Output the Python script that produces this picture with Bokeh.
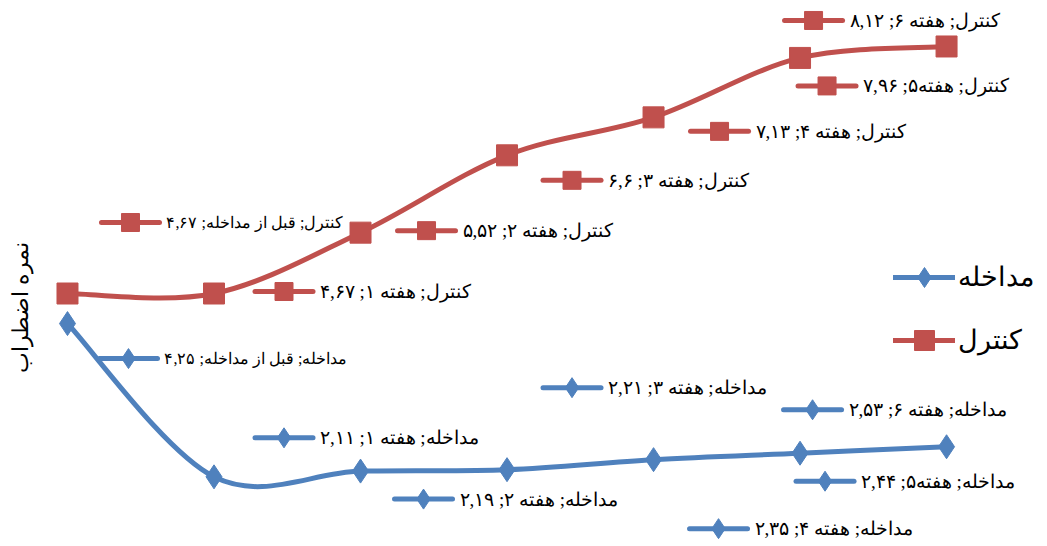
import math
from bokeh.plotting import figure
from bokeh.models import Range1d, Label, Legend, LegendItem
from bokeh.core.properties import value
from bokeh.embed import file_html
from bokeh.resources import INLINE

# ---- data ----
categories = ["قبل از مداخله", "هفته ۱", "هفته ۲", "هفته ۳", "هفته ۴", "هفته۵", "هفته ۶"]
control = [4.67, 4.67, 5.52, 6.60, 7.13, 7.96, 8.12]
intervention = [4.25, 2.11, 2.19, 2.21, 2.35, 2.44, 2.53]
name_int = "مداخله"
name_ctrl = "کنترل"
y_title = "نمره اضطراب"

RED = "#C0504D"
BLUE = "#4F81BD"
FONT = "Liberation Serif"

W, H = 1047, 546
X0, X1 = -0.4573, 6.689
Y0, Y1 = 1.137, 8.762
PX_X = W / (X1 - X0)
PX_Y = H / (Y1 - Y0)

# label layout offsets in pixels (key-marker centre relative to point; +dy = downwards)
ctrl_dx = [63, 70, 66, 65, 66, 27, -133]
ctrl_dy = [-71, -2, -2, 25, 14, 28, -26]
int_dx = [61, 70, 63, 65, 65, 25, -134]
int_dy = [35, -39, 28, -82, 69, 28, -37]

P_DIG = str.maketrans("0123456789.", "۰۱۲۳۴۵۶۷۸۹,")


def fmt(v):
    return f"{v:g}".translate(P_DIG)


def bez(vals):
    n = len(vals)
    xs = list(range(n))
    out = dict(x0=[], y0=[], x1=[], y1=[], cx0=[], cy0=[], cx1=[], cy1=[])
    for i in range(n - 1):
        pm = max(i - 1, 0)
        pp = min(i + 2, n - 1)
        out["x0"].append(xs[i]); out["y0"].append(vals[i])
        out["x1"].append(xs[i + 1]); out["y1"].append(vals[i + 1])
        out["cx0"].append(xs[i] + (xs[i + 1] - xs[pm]) / 6)
        out["cy0"].append(vals[i] + (vals[i + 1] - vals[pm]) / 6)
        out["cx1"].append(xs[i + 1] - (xs[pp] - xs[i]) / 6)
        out["cy1"].append(vals[i + 1] - (vals[pp] - vals[i]) / 6)
    return out


p = figure(width=W, height=H, x_range=Range1d(X0, X1), y_range=Range1d(Y0, Y1),
           output_backend="svg", toolbar_location=None, min_border=0,
           x_axis_location=None, y_axis_location=None, outline_line_color=None)
p.xgrid.visible = False
p.ygrid.visible = False

xs = list(range(len(categories)))

# intervention series
b_int = p.bezier(**bez(intervention), line_color=BLUE, line_width=5, line_cap="round")
s_int = p.scatter(xs, intervention, marker="diamond", size=24, fill_color=BLUE, line_color=BLUE)
# control series
b_ctrl = p.bezier(**bez(control), line_color=RED, line_width=5, line_cap="round")
s_ctrl = p.scatter(xs, control, marker="square", size=21, fill_color=RED, line_color=RED)


def data_labels(vals, name, dxs, dys, color, marker, msize):
    kx, ky, tx, txt, sizes = [], [], [], [], []
    for i, v in enumerate(vals):
        mx = xs[i] + dxs[i] / PX_X
        my = v - dys[i] / PX_Y
        kx.append(mx); ky.append(my)
        tx.append(mx + 36 / PX_X)
        txt.append(f"{name}; {categories[i]}; {fmt(v)}")
        sizes.append("16px" if i == 0 else "19px")
    half = 29 / PX_X
    p.segment(x0=[k - half for k in kx], y0=ky, x1=[k + half for k in kx], y1=ky,
              line_color=color, line_width=5, line_cap="round")
    p.scatter(kx, ky, marker=marker, size=msize, fill_color=color, line_color=color)
    p.text(x=tx, y=ky, text=txt, text_font=value(FONT), text_font_size=sizes,
           text_baseline="middle", text_align="left", text_color="#000000")


data_labels(control, name_ctrl, ctrl_dx, ctrl_dy, RED, "square", 18)
data_labels(intervention, name_int, int_dx, int_dy, BLUE, "diamond", 20)

legend = Legend(items=[LegendItem(label=name_int, renderers=[b_int, s_int]),
                       LegendItem(label=name_ctrl, renderers=[b_ctrl, s_ctrl])],
                location=(893, 181), orientation="vertical",
                glyph_width=62, glyph_height=50, spacing=13, padding=0, margin=0,
                label_standoff=3, label_text_font=FONT, label_text_font_size="27px",
                label_text_color="#000000", border_line_color=None,
                background_fill_alpha=0)
p.add_layout(legend, "center")

p.add_layout(Label(x=20, y=239, x_units="screen", y_units="screen", text=y_title,
                   angle=math.pi / 2, text_align="center", text_baseline="middle",
                   text_font=FONT, text_font_size="22px", text_color="#000000"))

open("out.html", "w").write(file_html(p, INLINE))
